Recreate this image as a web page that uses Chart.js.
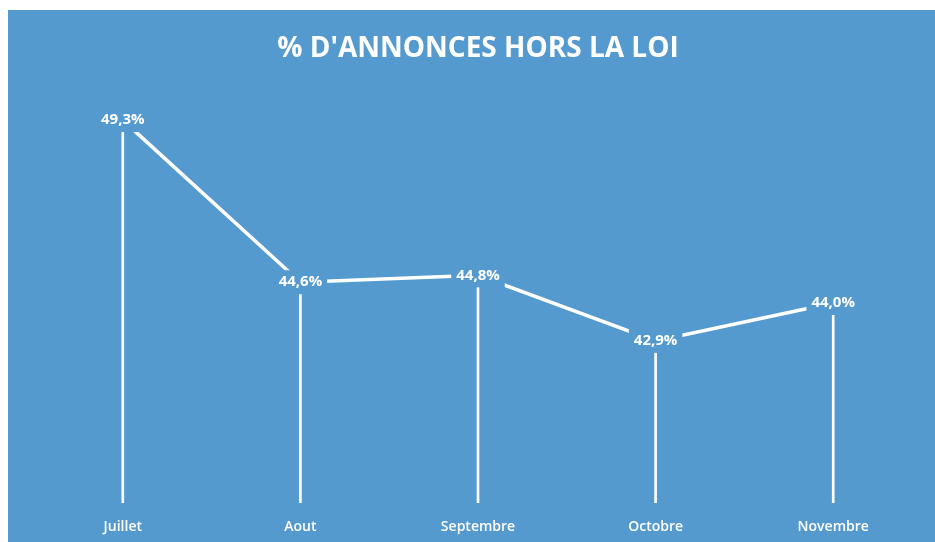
<!DOCTYPE html>
<html lang="fr">
<head>
<meta charset="utf-8">
<script src="https://cdn.jsdelivr.net/npm/chart.js@4/dist/chart.umd.min.js"></script>
<style>
  html, body { margin: 0; padding: 0; background: #ffffff; }
  #wrap {
    position: absolute; left: 8px; top: 10px;
    width: 927px; height: 532px;
    background: #559ACF;
  }
</style>
</head>
<body>
<div id="wrap"><canvas id="annoncesChart"></canvas></div>
<script>
const months = ['Juillet', 'Aout', 'Septembre', 'Octobre', 'Novembre'];
const horsLaLoi = [49.3, 44.6, 44.8, 42.9, 44.0];
const chartTitle = "% D'ANNONCES HORS LA LOI";

const bgBlue = '#559ACF';
const fontFamily = "'Open Sans', 'DejaVu Sans', sans-serif";

// labels drawn on a blue box so the line stops short of them, like in Excel
const pointLabels = {
  id: 'pointLabels',
  afterDatasetsDraw(chart) {
    const ctx = chart.ctx;
    const meta = chart.getDatasetMeta(1);
    ctx.save();
    ctx.font = 'bold 15px ' + fontFamily;
    ctx.textAlign = 'center';
    ctx.textBaseline = 'middle';
    meta.data.forEach((pt, i) => {
      const txt = horsLaLoi[i].toFixed(1).replace('.', ',') + '%';
      const w = ctx.measureText(txt).width;
      ctx.fillStyle = bgBlue;
      ctx.fillRect(pt.x - w / 2 - 5, pt.y - 12, w + 10, 24);
      ctx.fillStyle = '#ffffff';
      ctx.fillText(txt, pt.x, pt.y);
    });
    ctx.restore();
  }
};

const ctx = document.getElementById('annoncesChart').getContext('2d');
new Chart(ctx, {
  data: {
    labels: months,
    datasets: [
      {
        // drop lines
        type: 'bar',
        data: horsLaLoi,
        backgroundColor: '#ffffff',
        barThickness: 2,
        order: 2
      },
      {
        type: 'line',
        data: horsLaLoi,
        borderColor: '#ffffff',
        borderWidth: 3.5,
        pointRadius: 0,
        tension: 0,
        order: 1
      }
    ]
  },
  plugins: [pointLabels],
  options: {
    responsive: true,
    maintainAspectRatio: false,
    animation: false,
    layout: { padding: { left: 26, right: 13, top: 0, bottom: 0 } },
    plugins: {
      legend: { display: false },
      tooltip: { enabled: false },
      title: {
        display: true,
        text: chartTitle,
        color: '#ffffff',
        font: { family: fontFamily, size: 28, weight: 'bold' },
        padding: { top: 22, bottom: 20 }
      }
    },
    scales: {
      x: {
        grid: { display: false, drawTicks: false },
        border: { display: false },
        ticks: {
          color: '#ffffff',
          padding: 16,
          font: { family: fontFamily, size: 14, weight: '600' }
        },
        afterFit(scale) { scale.height = 39; }
      },
      y: {
        display: false,
        min: 38.2,
        max: 50.3
      }
    }
  }
});
</script>
</body>
</html>
